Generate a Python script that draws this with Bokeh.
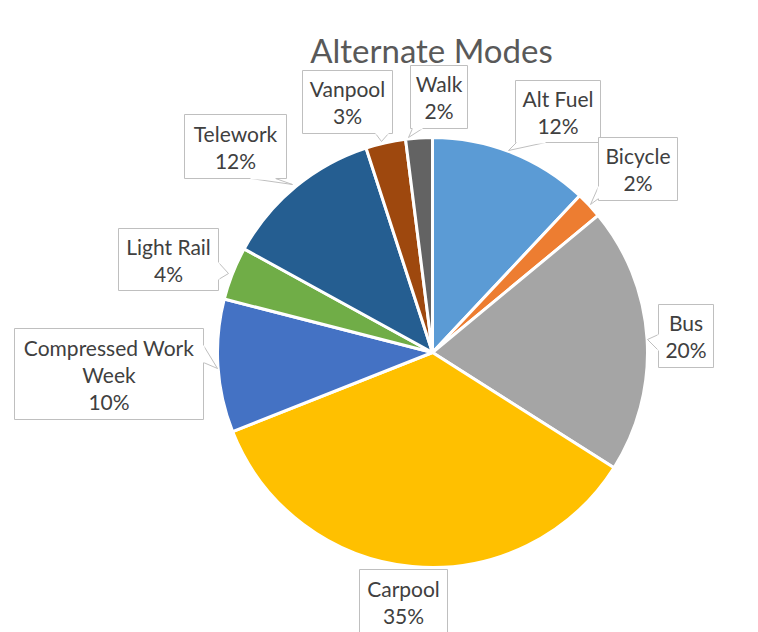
import math
from bokeh.plotting import figure
from bokeh.models import Range1d, ColumnDataSource
from bokeh.core.properties import value
from bokeh.embed import file_html
from bokeh.resources import INLINE

# ---- data ----
categories = ["Alt Fuel", "Bicycle", "Bus", "Carpool", "Compressed Work Week",
              "Light Rail", "Telework", "Vanpool", "Walk"]
percents = [12, 2, 20, 35, 10, 4, 12, 3, 2]
label_lines = [["Alt Fuel"], ["Bicycle"], ["Bus"], ["Carpool"],
               ["Compressed Work", "Week"], ["Light Rail"], ["Telework"],
               ["Vanpool"], ["Walk"]]
colors = ["#5B9BD5", "#ED7D31", "#A5A5A5", "#FFC000", "#4472C4",
          "#70AD47", "#255E91", "#9E480E", "#636363"]
title = "Alternate Modes"

# ---- layout (screen pixel coordinates) ----
W, H = 758, 632
CX, CY, R = 432, 352, 215
# label boxes: (left, top, right, bottom), pointer (base1, base2, tip) or None
boxes = [
    ((515, 80, 600, 142), ((516, 142), (545, 142), (508, 150))),
    ((598, 137, 677, 200), ((598, 186), (598, 198), (590, 204))),
    ((658, 304, 713, 367), ((658, 334), (658, 350), (647, 339))),
    ((359, 569, 447, 633), None),
    ((14, 328, 203, 419), ((203, 345), (203, 362), (217, 368))),
    ((118, 228, 218, 290), ((218, 262), (218, 279), (228, 273))),
    ((184, 114, 286, 178), ((250, 178), (275, 178), (292, 184))),
    ((302, 70, 392, 133), ((375, 133), (388, 133), (381, 141))),
    ((410, 65, 467, 128), ((412, 128), (422, 128), (408, 137))),
]
LINE_H = 27

def sy(y):
    # screen y -> data y
    return H - y

p = figure(width=W, height=H, output_backend="svg", toolbar_location=None,
           x_range=Range1d(0, W), y_range=Range1d(0, H),
           min_border=0, outline_line_color=None)
p.axis.visible = False
p.grid.visible = False
p.background_fill_color = "white"
p.border_fill_color = "white"

# pie wedges (clockwise from 12 o'clock)
total = float(sum(percents))
starts, ends = [], []
cum = 0.0
for v in percents:
    t1 = cum / total * 2 * math.pi
    cum += v
    t2 = cum / total * 2 * math.pi
    starts.append(math.pi / 2 - t2)
    ends.append(math.pi / 2 - t1)
src = ColumnDataSource(dict(start=starts, end=ends, color=colors,
                            x=[CX] * len(percents), y=[sy(CY)] * len(percents)))
p.wedge(x="x", y="y", radius=R, start_angle="start", end_angle="end",
        fill_color="color", line_color="white", line_width=3, source=src)

# callout boxes
xs, ys = [], []
for (l, t, r, b), ptr in boxes:
    xs.append([l, r, r, l])
    ys.append([sy(v) for v in [t, t, b, b]])
p.patches(xs, ys, fill_color="white", line_color="#BFBFBF", line_width=1)
# pointers
pxs, pys = [], []
for (l, t, r, b), ptr in boxes:
    if ptr is None:
        continue
    pxs.append([ptr[0][0], ptr[2][0], ptr[1][0]])
    pys.append([sy(ptr[0][1]), sy(ptr[2][1]), sy(ptr[1][1])])
p.patches(pxs, pys, fill_color="white", line_color="#BFBFBF", line_width=1)
for (l, t, r, b), ptr in boxes:
    if ptr is None:
        continue
    p.line([ptr[0][0], ptr[1][0]], [sy(ptr[0][1]), sy(ptr[1][1])],
           line_color="white", line_width=2)

# label texts
tx, ty, tt = [], [], []
for i, ((l, t, r, b), ptr) in enumerate(boxes):
    lines = label_lines[i] + ["%d%%" % percents[i]]
    cx = (l + r) / 2
    cy = (t + b) / 2
    if ptr is None:
        cy = t + 32
    n = len(lines)
    for k, s in enumerate(lines):
        tx.append(cx)
        ty.append(sy(cy + (k - (n - 1) / 2) * LINE_H))
        tt.append(s)
p.text(tx, ty, text=tt, text_align="center", text_baseline="middle",
       text_font=value("Lato"), text_font_size="21px", text_color="#404040")

# title
p.text([431], [sy(49)], text=[title], text_align="center", text_baseline="middle",
       text_font=value("Lato"), text_font_size="33px", text_color="#595959")

open("out.html", "w").write(file_html(p, INLINE))
